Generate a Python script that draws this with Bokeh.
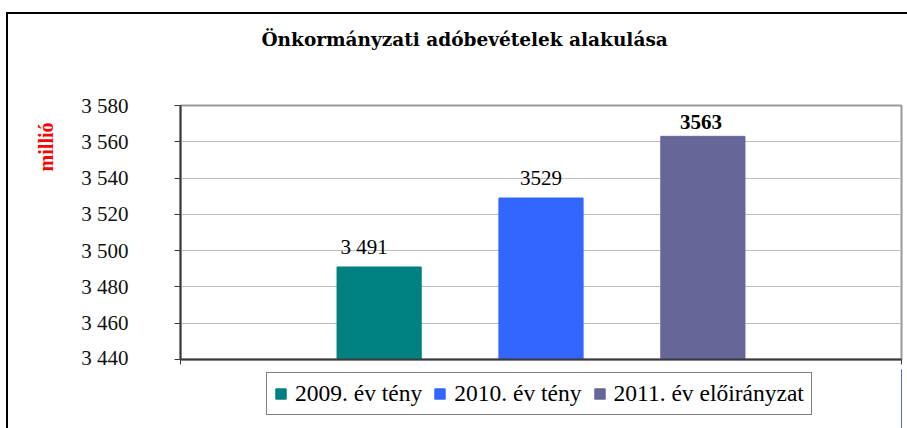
from bokeh.plotting import figure
from bokeh.layouts import column
from bokeh.models import (Range1d, Legend, LegendItem, Title, CustomJSTickFormatter,
                          FixedTicker, LinearAxis)
from bokeh.core.properties import value
from bokeh.embed import file_html
from bokeh.resources import INLINE

# ---- data ----
title_text = "Önkormányzati adóbevételek alakulása"
y_label = "millió"
series = ["2009. év tény", "2010. év tény", "2011. év előirányzat"]
positions = [1, 2, 3]
values = [3491, 3529, 3563]
value_labels = ["3 491", "3529", "3563"]
y_ticks = [3440, 3460, 3480, 3500, 3520, 3540, 3560, 3580]

# ---- styles ----
colors = ["#008080", "#3366FF", "#666699"]
label_bold = [False, False, True]
label_dx = [-15, 0, -2]
SERIF = "Liberation Serif"

W = 899
HP, HL = 355, 59
x_lo, x_hi = -0.227, 4.227
p = figure(width=W, height=HP, output_backend="svg", toolbar_location=None,
           x_range=Range1d(x_lo, x_hi), y_range=Range1d(y_ticks[0], y_ticks[-1]),
           min_border_left=172, min_border_right=6, min_border_top=91,
           min_border_bottom=10, background_fill_color="white",
           border_fill_color="white", title=None)

p.outline_line_color = "#999999"
p.outline_line_width = 2
p.xgrid.visible = False
p.ygrid.grid_line_color = "#bdbdbd"
p.ygrid.grid_line_width = 1

ya = p.yaxis[0]
ya.ticker = FixedTicker(ticks=y_ticks)
ya.formatter = CustomJSTickFormatter(
    code="return Math.round(tick).toString().replace(/\\B(?=(\\d{3})+(?!\\d))/g, ' ');")
ya.major_label_text_font = SERIF
ya.major_label_text_font_size = "21px"
ya.major_label_text_color = "#111111"
ya.major_label_standoff = 46
ya.major_tick_in = 0
ya.major_tick_out = 6
ya.minor_tick_out = 0
ya.minor_tick_in = 0
ya.axis_line_color = "#3a3a3a"
ya.axis_line_width = 2
ya.major_tick_line_color = "#3a3a3a"

xa = p.xaxis[0]
xa.ticker = FixedTicker(ticks=[x_lo, x_hi])
xa.formatter = CustomJSTickFormatter(code="return '';")
xa.major_label_standoff = 0
xa.major_tick_in = 0
xa.major_tick_out = 5
xa.minor_tick_out = 0
xa.axis_line_color = "#3a3a3a"
xa.axis_line_width = 2
xa.major_tick_line_color = "#3a3a3a"


def spacer(size, ticks):
    return LinearAxis(ticker=FixedTicker(ticks=ticks),
                      formatter=CustomJSTickFormatter(code="return '';"),
                      axis_line_color=None, major_tick_line_color=None,
                      minor_tick_line_color=None, major_tick_in=0,
                      major_tick_out=size, minor_tick_out=0, major_label_standoff=0)


for i in range(len(series)):
    p.vbar(x=[positions[i]], top=[values[i]], width=0.52,
           fill_color=colors[i], line_color=colors[i], line_width=1)
    p.text(x=[positions[i]], y=[values[i]], text=[value_labels[i]],
           text_font=value(SERIF), text_font_size="21px",
           text_font_style="bold" if label_bold[i] else "normal",
           text_color="black", text_align="center", text_baseline="alphabetic",
           x_offset=label_dx[i], y_offset=-14 if label_bold[i] else -20)

p.add_layout(spacer(51, [x_lo, x_hi]), "above")
p.add_layout(Title(text=title_text, align="left", offset=81,
                   text_font="DejaVu Serif", text_font_style="bold",
                   text_font_size="18.5px", text_color="black"), "above")

p.add_layout(spacer(17, [y_ticks[0], y_ticks[-1]]), "left")
p.add_layout(Title(text=y_label, align="right", offset=17, text_font=SERIF,
                   text_font_style="bold", text_font_size="20px",
                   text_color="#FF0000"), "left")

# ---- legend strip (separate figure, proxies of the same series, outside its view) ----
q = figure(width=W, height=HL, output_backend="svg", toolbar_location=None,
           x_range=Range1d(-1, 0), y_range=Range1d(0, 1),
           x_axis_type=None, y_axis_type=None, min_border=0,
           background_fill_color="white", border_fill_color="white", title=None)
q.grid.visible = False
q.outline_line_color = None
items = []
for i in range(len(series)):
    r = q.vbar(x=[positions[i]], top=[values[i]], width=0.5,
               fill_color=colors[i], line_color=colors[i])
    items.append(LegendItem(label=series[i], renderers=[r]))

legend = Legend(items=items, orientation="horizontal", location=(86, 13))
legend.label_text_font = SERIF
legend.label_text_font_size = "23.5px"
legend.label_text_color = "black"
legend.glyph_width = 13
legend.glyph_height = 13
legend.label_standoff = 8
legend.spacing = 11
legend.padding = 7
legend.margin = 0
legend.border_line_color = "black"
legend.border_line_width = 1
legend.background_fill_color = "white"
legend.background_fill_alpha = 1
q.add_layout(legend)

lay = column(p, q, spacing=0,
             styles={"margin-left": "6px", "margin-top": "12px",
                     "border-left": "2px solid black", "border-top": "2px solid black"})

open("out.html", "w").write(file_html(lay, INLINE))
